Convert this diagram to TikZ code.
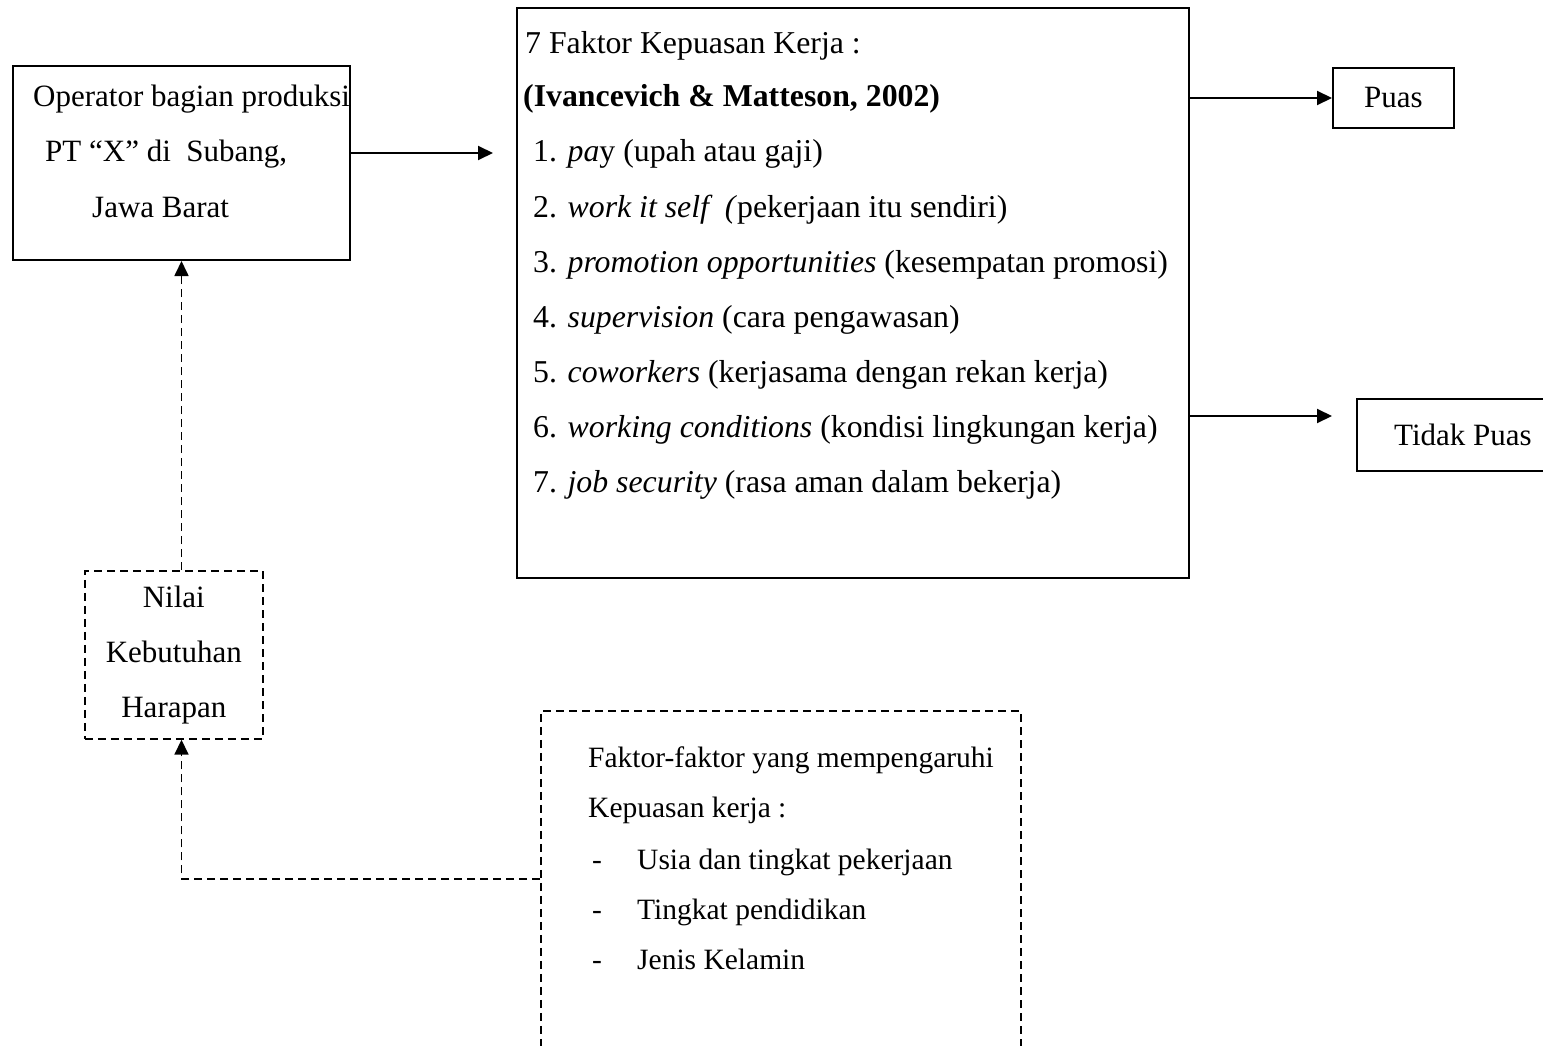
\documentclass[tikz,border=0pt]{standalone}
\usepackage{fontspec}
\setmainfont{Liberation Serif}
\usetikzlibrary{arrows.meta}

\tikzset{
  frame/.style={draw, line width=2pt, inner sep=0pt, anchor=north west},
  dashframe/.style={frame, line width=1.7pt, dash pattern=on 8pt off 5pt},
  txt/.style={inner sep=0pt, anchor=base west, font=\fontsize{31.8}{55}\selectfont},
  optxt/.style={txt, font=\fontsize{31}{55}\selectfont},
  ftxt/.style={txt, font=\fontsize{29.5}{50}\selectfont},
  link/.style={line width=2pt, -{Triangle[length=15pt,width=14pt]}},
  dashlink/.style={link, line width=1.7pt, dash pattern=on 8pt off 5pt},
}

\begin{document}
\begin{tikzpicture}[x=1pt,y=-1pt]
  \useasboundingbox (0,0) rectangle (1543,1046);

  % operator box
  \node[frame, minimum width=337pt, minimum height=194pt] (opbox) at (12,65) {};
  \node[optxt] (op1) at (33,107) {Operator bagian produksi};
  \node[optxt] (op2) at (45,162) {PT “X” di\ \ Subang,};
  \node[optxt] (op3) at (92,217) {Jawa Barat};

  % 7 factors box
  \node[frame, minimum width=672pt, minimum height=570pt] (mainbox) at (516,7) {};
  \node[txt] (head1) at (525,54) {7 Faktor Kepuasan Kerja :};
  \node[txt] (head2) at (523,107) {\textbf{(Ivancevich \& Matteson, 2002)}};
  \foreach \t [count=\i] in {%
      {1. \textit{pa}y (upah atau gaji)},
      {2. \textit{work it self\ \ (}pekerjaan itu sendiri)},
      {3. \textit{promotion opportunities} (kesempatan promosi)},
      {4. \textit{supervision} (cara pengawasan)},
      {5. \textit{coworkers} (kerjasama dengan rekan kerja)},
      {6. \textit{working conditions} (kondisi lingkungan kerja)},
      {7. \textit{job security} (rasa aman dalam bekerja)}} {
    \node[txt] (item\i) at (533,{107+55*\i}) {\t};
  }

  % results
  \node[frame, minimum width=121pt, minimum height=60pt,
        font=\fontsize{31}{55}\selectfont] (puas) at (1332,67) {Puas};
  \node[frame, minimum width=212pt, minimum height=72pt,
        font=\fontsize{31}{55}\selectfont] (tidak) at (1356,398) {Tidak Puas};

  % needs box
  \node[dashframe, minimum width=178pt, minimum height=168pt, align=center,
        font=\fontsize{31}{55}\selectfont] (nilai) at (84,570) {Nilai\\Kebutuhan\\Harapan};

  % influencing factors box
  \node[dashframe, minimum width=480pt, minimum height=350pt] (faktor) at (540,710) {};
  \node[ftxt] (fk1) at (588,767) {Faktor-faktor yang mempengaruhi};
  \node[ftxt] (fk2) at (588,817) {Kepuasan kerja :};
  \foreach \t [count=\i] in {Usia dan tingkat pekerjaan, Tingkat pendidikan, Jenis Kelamin} {
    \node[ftxt] (dash\i) at (592,{819+50*\i}) {-};
    \node[ftxt] (fact\i) at (637,{819+50*\i}) {\t};
  }

  % connectors
  \coordinate (opout) at ([yshift=10pt]opbox.east);
  \draw[link, shorten >=23pt] (opout) -- (opout -| mainbox.west);
  \draw[link] (mainbox.east |- puas.west) -- (puas.west);
  \coordinate (tdin) at ([yshift=19pt]tidak.west);
  \draw[link, shorten >=24pt] (mainbox.east |- tdin) -- (tdin);
  \draw[dashlink] (opbox.south |- nilai.north) -- (opbox.south);
  \coordinate (fkout) at ([yshift=7pt]faktor.west);
  \draw[dashlink] (fkout) -| (opbox.south |- nilai.south);
\end{tikzpicture}
\end{document}
